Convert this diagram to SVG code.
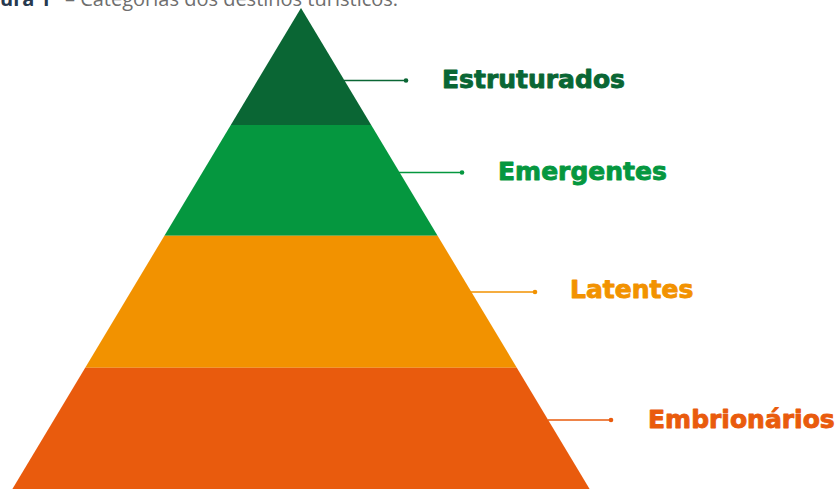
<svg xmlns="http://www.w3.org/2000/svg" width="835" height="489" viewBox="0 0 835 489">
<style>
.lbl{font-family:"DejaVu Sans","Liberation Sans",sans-serif;font-weight:bold;font-size:25px;stroke-width:0.9;stroke-linejoin:round}
.conn{stroke-width:1.5;fill:none}
.title{font-family:"Open Sans","Liberation Sans",sans-serif;font-size:20px}
</style>
<rect width="835" height="489" fill="#ffffff"/>
<text class="title" x="0" y="6"><tspan font-weight="bold" fill="#27394f">ura 1</tspan><tspan fill="#6e6e6e" dx="14">– Categorias dos destinos turísticos.</tspan></text>
<g id="band-estruturados"><polygon points="301,8 371.2,125 230.8,125" fill="#0a6634"/></g>
<g id="band-emergentes"><polygon points="230.8,125 371.2,125 437.6,235.7 164.4,235.7" fill="#05973f"/></g>
<g id="band-latentes"><polygon points="164.4,235.7 437.6,235.7 516.8,367.7 85.2,367.7" fill="#f29200"/></g>
<g id="band-embrionarios"><polygon points="85.2,367.7 516.8,367.7 589.6,489 12.4,489" fill="#e95b0d"/></g>
<g id="connectors">
<line class="conn" x1="344" y1="80.5" x2="406" y2="80.5" stroke="#0a6634"/><circle cx="406" cy="80.5" r="2.3" fill="#0a6634"/>
<line class="conn" x1="399" y1="172.5" x2="462" y2="172.5" stroke="#05973f"/><circle cx="462" cy="172.5" r="2.3" fill="#05973f"/>
<line class="conn" x1="470" y1="292" x2="535" y2="292" stroke="#f29200"/><circle cx="535" cy="292" r="2.3" fill="#f29200"/>
<line class="conn" x1="548" y1="420" x2="611" y2="420" stroke="#e95b0d"/><circle cx="611" cy="420" r="2.3" fill="#e95b0d"/>
</g>
<g id="label-estruturados"><text class="lbl" x="442" y="88" fill="#0a6634" stroke="#0a6634">Estruturados</text></g>
<g id="label-emergentes"><text class="lbl" x="498" y="179.5" fill="#05973f" stroke="#05973f">Emergentes</text></g>
<g id="label-latentes"><text class="lbl" x="570" y="298" fill="#f29200" stroke="#f29200">Latentes</text></g>
<g id="label-embrionarios"><text class="lbl" x="648" y="428" fill="#e95b0d" stroke="#e95b0d">Embrionários</text></g>
</svg>
